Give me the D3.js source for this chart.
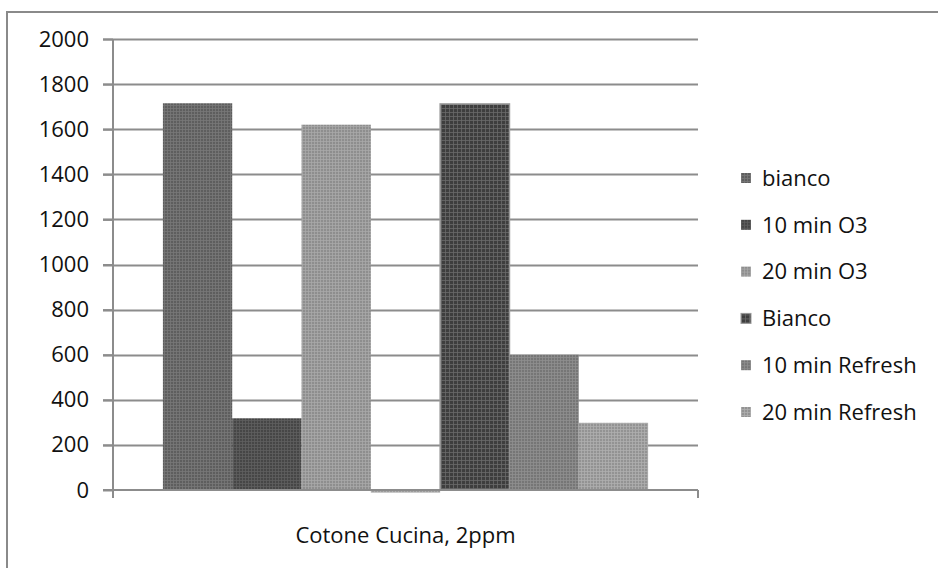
<!DOCTYPE html>
<html>
<head>
<meta charset="utf-8">
<script src="https://cdn.jsdelivr.net/npm/d3@7"></script>
<style>
  html, body { margin: 0; padding: 0; background: #fff; }
  svg { display: block; }
  text { font-family: "Open Sans", sans-serif; fill: #111; }
</style>
</head>
<body>
<svg id="chart" width="938" height="568"></svg>
<script>
// Category and series
const categories = ["Cotone Cucina, 2ppm"];
const seriesNames = ["bianco", "10 min O3", "20 min O3", "", "Bianco", "10 min Refresh", "20 min Refresh"];
const seriesValues = [1715, 318, 1620, -12, 1712, 600, 298];
const yTicks = [0, 200, 400, 600, 800, 1000, 1200, 1400, 1600, 1800, 2000];

// Fill textures: [base colour, line colour, line spacing]
const seriesTextures = [
  ["#5e5e5e", "#787878", 3],
  ["#464646", "#5f5f5f", 3],
  ["#8e8e8e", "#a9a9a9", 3],
  ["#9c9c9c", "#b6b6b6", 3],
  ["#3e3e3e", "#6a6a6a", 4],
  ["#767676", "#8e8e8e", 3],
  ["#939393", "#afafaf", 3]
];

const svg = d3.select("#chart");
const W = 938, H = 568;
const plot = { left: 113, right: 698, top: 39, bottom: 490 };

// Patterns
const defs = svg.append("defs");
seriesTextures.forEach((t, i) => {
  const [base, line, s] = t;
  const p = defs.append("pattern")
    .attr("id", "tex" + i)
    .attr("patternUnits", "userSpaceOnUse")
    .attr("width", s).attr("height", s);
  p.append("rect").attr("width", s).attr("height", s).attr("fill", base);
  p.append("rect").attr("x", 0).attr("y", 0).attr("width", s).attr("height", 1).attr("fill", line).attr("opacity", 0.8);
  p.append("rect").attr("x", 0).attr("y", 0).attr("width", 1).attr("height", s).attr("fill", line).attr("opacity", 0.8);
});

// Chart frame
svg.append("rect")
  .attr("x", 7).attr("y", 12)
  .attr("width", W).attr("height", H)
  .attr("fill", "none")
  .attr("stroke", "#8a8a8a")
  .attr("stroke-width", 2);

// Scales
const y = d3.scaleLinear().domain([0, 2000]).range([plot.bottom, plot.top]);
const x0 = d3.scaleBand().domain(categories).range([plot.left, plot.right]).padding(0);
const x1 = d3.scaleBand()
  .domain(d3.range(seriesValues.length))
  .range([0, x0.bandwidth()])
  .paddingInner(0)
  .paddingOuter(0.72);

// Gridlines
svg.append("g")
  .selectAll("line")
  .data(yTicks.filter(v => v !== 0))
  .join("line")
  .attr("x1", plot.left - 10)
  .attr("x2", plot.right)
  .attr("y1", d => Math.round(y(d)) + 0.5)
  .attr("y2", d => Math.round(y(d)) + 0.5)
  .attr("stroke", "#8c8c8c")
  .attr("stroke-width", 2);

// Bars
const catG = svg.append("g").attr("transform", `translate(${x0(categories[0])},0)`);
catG.selectAll("rect")
  .data(seriesValues.map((v, i) => ({ v, i })))
  .join("rect")
  .attr("x", d => x1(d.i))
  .attr("width", x1.bandwidth())
  .attr("y", d => y(Math.max(0, d.v)))
  .attr("height", d => Math.abs(y(d.v) - y(0)))
  .attr("fill", d => `url(#tex${d.i})`)
  .attr("stroke", d => d.i === 4 ? "#9a9a9a" : "none")
  .attr("stroke-width", 1.5);

// Y axis
const yAxis = svg.append("g").attr("transform", `translate(${plot.left},0)`)
  .call(d3.axisLeft(y).tickValues(yTicks).tickSize(10).tickPadding(14).tickFormat(d3.format("d")));
yAxis.select(".domain").remove();
yAxis.selectAll(".tick line").attr("stroke", "#8c8c8c").attr("stroke-width", 2);
yAxis.selectAll(".tick text").style("font-size", "22px").attr("fill", "#111");
svg.append("line")
  .attr("x1", plot.left).attr("x2", plot.left)
  .attr("y1", plot.top).attr("y2", plot.bottom + 8)
  .attr("stroke", "#8c8c8c").attr("stroke-width", 2);

// X axis
svg.append("line")
  .attr("x1", plot.left - 10).attr("x2", plot.right)
  .attr("y1", y(0)).attr("y2", y(0))
  .attr("stroke", "#8c8c8c").attr("stroke-width", 2);
svg.append("line")
  .attr("x1", plot.right).attr("x2", plot.right)
  .attr("y1", y(0)).attr("y2", plot.bottom + 8)
  .attr("stroke", "#8c8c8c").attr("stroke-width", 2);

svg.append("g")
  .selectAll("text")
  .data(categories)
  .join("text")
  .attr("x", d => x0(d) + x0.bandwidth() / 2)
  .attr("y", 543)
  .attr("text-anchor", "middle")
  .style("font-size", "22px")
  .text(d => d);

// Legend
const legendItems = seriesNames.map((n, i) => ({ n, i })).filter(d => d.n !== "");
const lg = svg.append("g");
const lgRow = lg.selectAll("g")
  .data(legendItems)
  .join("g")
  .attr("transform", (d, k) => `translate(741, ${178 + k * 46.8})`);
lgRow.append("rect")
  .attr("x", 0).attr("y", -5)
  .attr("width", 10).attr("height", 10)
  .attr("fill", d => `url(#tex${d.i})`)
  .attr("stroke", d => d.i === 4 ? "#9a9a9a" : "none");
lgRow.append("text")
  .attr("x", 21)
  .attr("dy", "0.35em")
  .style("font-size", "22px")
  .text(d => d.n);
</script>
</body>
</html>
